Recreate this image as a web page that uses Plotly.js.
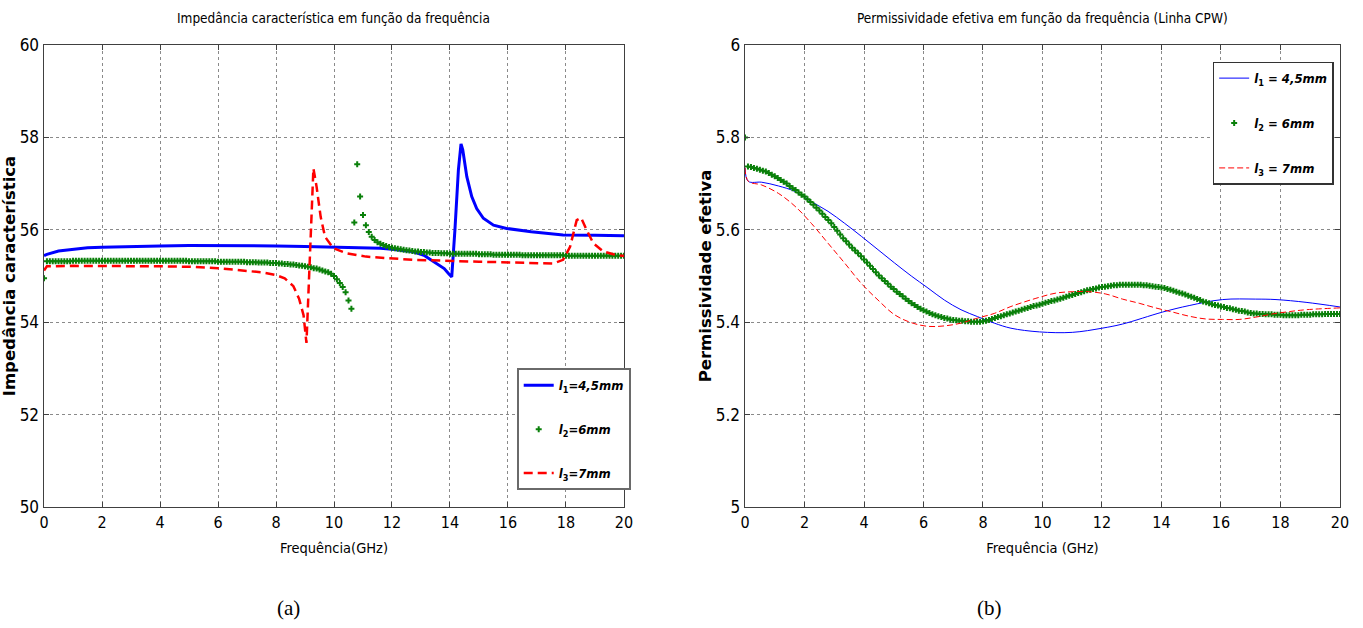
<!DOCTYPE html>
<html>
<head>
<meta charset="utf-8">
<script src="https://cdn.plot.ly/plotly-3.0.1.min.js"></script>
<style>
  html, body { margin: 0; padding: 0; background: #ffffff; }
  #chart { width: 1363px; height: 628px; }
</style>
</head>
<body>
<div id="chart"></div>
<script>
// ---------------- (a) Impedância característica ----------------
const impL1Freq = [0, 0.1, 0.5, 1, 1.5, 2, 3, 4, 5, 6, 7, 8, 9, 10, 11, 11.6, 12, 12.7, 13.1, 13.4, 13.8, 13.94, 14.06, 14.17, 14.29, 14.38, 14.44, 14.58, 14.75, 14.92, 15.15, 15.5, 15.95, 16.8, 17.9, 19, 20];
const impL1 = [55.44, 55.47, 55.54, 55.58, 55.61, 55.62, 55.64, 55.65, 55.66, 55.66, 55.65, 55.65, 55.64, 55.63, 55.62, 55.6, 55.58, 55.53, 55.45, 55.33, 55.16, 55.06, 54.98, 56.0, 57.3, 57.86, 57.73, 57.15, 56.72, 56.46, 56.25, 56.1, 56.03, 55.96, 55.89, 55.88, 55.87];

// l2 markers sampled every 0.1 GHz starting at 0 GHz
const impL2 = [
  54.95,
  55.32, 55.32, 55.32, 55.32, 55.32, 55.32, 55.32, 55.32, 55.32,
  55.33, 55.33, 55.33, 55.33, 55.33, 55.33, 55.33, 55.33, 55.33, 55.33,
  55.33, 55.33, 55.33, 55.33, 55.33, 55.33, 55.33, 55.33, 55.33, 55.33,
  55.33, 55.33, 55.33, 55.33, 55.33, 55.33, 55.33, 55.33, 55.33, 55.33,
  55.33, 55.33, 55.33, 55.33, 55.33, 55.33, 55.33, 55.33, 55.33, 55.33,
  55.32, 55.32, 55.32, 55.32, 55.32, 55.32, 55.32, 55.32, 55.32, 55.32,
  55.31, 55.31, 55.31, 55.31, 55.31, 55.31, 55.31, 55.31, 55.31, 55.31,
  55.30, 55.30, 55.30, 55.30, 55.29, 55.29, 55.29, 55.29, 55.28, 55.28,
  55.28, 55.27, 55.27, 55.26, 55.26, 55.25, 55.25, 55.24, 55.23, 55.22,
  55.21, 55.20, 55.19, 55.17, 55.16, 55.14, 55.12, 55.10, 55.08, 55.05,
  55.00, 54.93, 54.85, 54.76, 54.65, 54.47, 54.29, 56.16, 57.42, 56.72,
  56.32, 56.10, 55.95, 55.85, 55.78, 55.73, 55.70, 55.67, 55.65, 55.63,
  55.61, 55.60, 55.59, 55.58, 55.57, 55.56, 55.55, 55.54, 55.53, 55.53,
  55.52, 55.52, 55.51, 55.51, 55.50, 55.50, 55.50, 55.49, 55.49, 55.49,
  55.48, 55.48, 55.48, 55.48, 55.48, 55.48, 55.48, 55.48, 55.48, 55.48,
  55.47, 55.47, 55.47, 55.47, 55.47, 55.46, 55.46, 55.46, 55.46, 55.46,
  55.46, 55.46, 55.46, 55.46, 55.46, 55.45, 55.45, 55.45, 55.45, 55.45,
  55.45, 55.45, 55.45, 55.45, 55.45, 55.45, 55.45, 55.45, 55.45, 55.45,
  55.44, 55.44, 55.44, 55.44, 55.44, 55.44, 55.44, 55.44, 55.44, 55.44,
  55.44, 55.44, 55.44, 55.44, 55.44, 55.44, 55.44, 55.44, 55.44, 55.44,
  55.44
];

const impL3Freq = [0, 0.1, 1, 2, 3, 4, 5, 6, 7, 7.5, 8, 8.3, 8.6, 8.8, 8.95, 9.05, 9.29, 9.4, 9.54, 9.69, 9.98, 10.44, 11.1, 12.7, 15, 17.56, 17.9, 18.14, 18.37, 18.52, 18.71, 18.94, 19.29, 19.63, 20];
const impL3 = [55.12, 55.21, 55.22, 55.22, 55.21, 55.21, 55.2, 55.17, 55.11, 55.08, 55.02, 54.95, 54.78, 54.5, 54.15, 53.55, 57.33, 56.93, 56.28, 55.85, 55.6, 55.49, 55.42, 55.35, 55.31, 55.27, 55.35, 55.63, 56.21, 56.26, 56.0, 55.71, 55.53, 55.47, 55.43];

// ---------------- (b) Permissividade efetiva ----------------
const permL1Freq = [0, 0.11, 0.56, 1.12, 1.68, 2.23, 2.79, 3.35, 3.91, 4.47, 5.03, 5.59, 6.15, 6.7, 7.26, 7.82, 8.38, 8.94, 9.9, 11.0, 12.0, 12.69, 14.04, 14.93, 16.05, 17.17, 17.85, 18.86, 20];
const permL1 = [5.734, 5.705, 5.703, 5.695, 5.683, 5.661, 5.64, 5.614, 5.586, 5.557, 5.528, 5.5, 5.474, 5.448, 5.427, 5.412, 5.398, 5.387, 5.379, 5.378, 5.387, 5.396, 5.422, 5.436, 5.449, 5.45, 5.449, 5.443, 5.433];

const permL2 = [
  5.800,
  5.737, 5.736, 5.734, 5.732, 5.730, 5.728, 5.726, 5.723, 5.719,
  5.716, 5.712, 5.708, 5.704, 5.700, 5.695, 5.690, 5.686, 5.681, 5.676,
  5.672, 5.666, 5.660, 5.654, 5.648, 5.642, 5.635, 5.628, 5.621, 5.614,
  5.606, 5.598, 5.590, 5.582, 5.575, 5.568, 5.561, 5.555, 5.549, 5.543,
  5.536, 5.529, 5.522, 5.515, 5.508, 5.501, 5.495, 5.489, 5.483, 5.477,
  5.472, 5.466, 5.461, 5.456, 5.451, 5.446, 5.441, 5.437, 5.433, 5.429,
  5.426, 5.423, 5.420, 5.417, 5.415, 5.413, 5.411, 5.409, 5.408, 5.406,
  5.405, 5.404, 5.403, 5.403, 5.402, 5.402, 5.401, 5.401, 5.401, 5.401,
  5.402, 5.403, 5.405, 5.407, 5.409, 5.411, 5.413, 5.415, 5.417, 5.419,
  5.421, 5.423, 5.425, 5.427, 5.429, 5.431, 5.433, 5.435, 5.436, 5.438,
  5.440, 5.442, 5.444, 5.446, 5.447, 5.449, 5.451, 5.453, 5.455, 5.457,
  5.459, 5.461, 5.463, 5.465, 5.467, 5.469, 5.470, 5.472, 5.473, 5.475,
  5.476, 5.477, 5.478, 5.479, 5.480, 5.480, 5.481, 5.481, 5.481, 5.481,
  5.481, 5.481, 5.481, 5.481, 5.480, 5.480, 5.479, 5.478, 5.477, 5.476,
  5.475, 5.474, 5.472, 5.470, 5.468, 5.466, 5.464, 5.462, 5.460, 5.457,
  5.455, 5.453, 5.450, 5.448, 5.445, 5.443, 5.441, 5.439, 5.437, 5.436,
  5.434, 5.433, 5.431, 5.430, 5.428, 5.427, 5.425, 5.424, 5.423, 5.421,
  5.420, 5.419, 5.419, 5.418, 5.418, 5.417, 5.417, 5.417, 5.416, 5.416,
  5.416, 5.415, 5.415, 5.415, 5.415, 5.415, 5.415, 5.416, 5.416, 5.416,
  5.416, 5.417, 5.417, 5.417, 5.417, 5.418, 5.418, 5.418, 5.418, 5.418,
  5.418
];

const permL3Freq = [0, 0.11, 0.56, 1.12, 1.68, 2.23, 2.79, 3.35, 3.91, 4.47, 5.03, 5.59, 6.15, 6.7, 7.26, 7.82, 8.38, 8.94, 9.9, 10.45, 11.0, 11.57, 12.13, 12.69, 13.25, 13.8, 14.37, 14.93, 15.49, 16.05, 16.61, 17.17, 17.74, 18.3, 18.86, 20];
const permL3 = [5.734, 5.705, 5.697, 5.679, 5.651, 5.614, 5.571, 5.528, 5.484, 5.448, 5.416, 5.399, 5.391, 5.392, 5.398, 5.409, 5.419, 5.434, 5.454, 5.463, 5.466, 5.466, 5.461, 5.45, 5.441, 5.431, 5.422, 5.413, 5.407, 5.406, 5.406, 5.411, 5.418, 5.423, 5.427, 5.431];

const seriesNames = ['<i>l</i><sub>1</sub><i>=4,5mm</i>', '<i>l</i><sub>2</sub><i>=6mm</i>', '<i>l</i><sub>3</sub><i>=7mm</i>'];
const seriesNamesB = ['<i>l</i><sub>1</sub><i> = 4,5mm</i>', '<i>l</i><sub>2</sub><i> = 6mm</i>', '<i>l</i><sub>3</sub><i> = 7mm</i>'];

const NARROW = '"Liberation Sans Narrow", "Arial Narrow", "DejaVu Sans Condensed", sans-serif';
const BLUE = '#0000ff', GREEN = '#0a800a', RED = '#ff0000';

const traces = [
  {x: impL1Freq, y: impL1, type: 'scatter', mode: 'lines', name: seriesNames[0],
   line: {color: BLUE, width: 3}, xaxis: 'x', yaxis: 'y', legend: 'legend', legendgroup: 'a1'},
  {x0: 0, dx: 0.1, y: impL2, type: 'scatter', mode: 'markers', name: seriesNames[1],
   marker: {color: GREEN, symbol: 'cross', size: 5}, xaxis: 'x', yaxis: 'y', legend: 'legend', legendgroup: 'a2'},
  {x: impL3Freq, y: impL3, type: 'scatter', mode: 'lines', name: seriesNames[2],
   line: {color: RED, width: 2.5, dash: '9px,5px'}, xaxis: 'x', yaxis: 'y', legend: 'legend', legendgroup: 'a3'},

  {x: permL1Freq, y: permL1, type: 'scatter', mode: 'lines', name: seriesNamesB[0],
   line: {color: BLUE, width: 1, shape: 'spline'}, xaxis: 'x2', yaxis: 'y2', legend: 'legend2', legendgroup: 'b1'},
  {x0: 0, dx: 0.1, y: permL2, type: 'scatter', mode: 'markers', name: seriesNamesB[1],
   marker: {color: GREEN, symbol: 'cross', size: 5}, xaxis: 'x2', yaxis: 'y2', legend: 'legend2', legendgroup: 'b2'},
  {x: permL3Freq, y: permL3, type: 'scatter', mode: 'lines', name: seriesNamesB[2],
   line: {color: RED, width: 1, dash: '6px,3px', shape: 'spline'}, xaxis: 'x2', yaxis: 'y2', legend: 'legend2', legendgroup: 'b3'}
];

function xAxis(domain, anchor, title) {
  return {
    domain: domain, anchor: anchor, range: [0, 20], dtick: 2, tick0: 0,
    showgrid: true, gridcolor: '#8a8a8a', griddash: 'dot', gridwidth: 1,
    zeroline: false, showline: true, linecolor: '#404040', linewidth: 1.5, mirror: 'allticks',
    ticks: 'inside', ticklen: 5, tickcolor: '#404040',
    tickfont: {family: NARROW, size: 16, color: '#000'},
    title: {text: title, font: {family: NARROW, size: 14.5, color: '#000'}, standoff: 12}
  };
}
function yAxis(domain, anchor, range, dtick, title) {
  return {
    domain: domain, anchor: anchor, range: range, dtick: dtick, tick0: range[0],
    showgrid: true, gridcolor: '#8a8a8a', griddash: 'dot', gridwidth: 1,
    zeroline: false, showline: true, linecolor: '#404040', linewidth: 1.5, mirror: 'allticks',
    ticks: 'inside', ticklen: 5, tickcolor: '#404040',
    tickfont: {family: NARROW, size: 17, color: '#000'},
    title: {text: title, font: {family: '"DejaVu Sans", "Liberation Sans", sans-serif', size: 16.5, color: '#000', weight: 'bold'}, standoff: 0}
  };
}

const legendCommon = {
  xanchor: 'left', yanchor: 'top', bgcolor: '#ffffff',
  font: {family: NARROW, size: 13, color: '#000', weight: 'bold'},
  itemwidth: 30, tracegroupgap: 24
};

const layout = {
  width: 1363, height: 628,
  margin: {l: 0, r: 0, t: 0, b: 0},
  paper_bgcolor: '#ffffff', plot_bgcolor: '#ffffff',
  showlegend: true,
  xaxis: xAxis([0.0323, 0.4578], 'y', 'Frequência(GHz)'),
  yaxis: yAxis([0.1927, 0.9283], 'x', [50, 60], 2, 'Impedância característica'),
  xaxis2: xAxis([0.5466, 0.9831], 'y2', 'Frequência (GHz)'),
  yaxis2: yAxis([0.1927, 0.9283], 'x2', [5, 6], 0.2, 'Permissividade efetiva'),
  legend: Object.assign({}, legendCommon, {x: 0.3791, y: 0.4135, bordercolor: '#6a6a6a', borderwidth: 2}),
  legend2: Object.assign({}, legendCommon, {x: 0.8897, y: 0.9018, bordercolor: '#333333', borderwidth: 1.5, tracegroupgap: 25}),
  annotations: [
    {text: 'Impedância característica em função da frequência', xref: 'paper', yref: 'paper',
     x: 0.2450, y: 1 - 18 / 628, xanchor: 'center', yanchor: 'middle', showarrow: false,
     font: {family: NARROW, size: 13.5, color: '#000'}},
    {text: 'Permissividade efetiva em função da frequência (Linha CPW)', xref: 'paper', yref: 'paper',
     x: 0.7648, y: 1 - 18 / 628, xanchor: 'center', yanchor: 'middle', showarrow: false,
     font: {family: NARROW, size: 13.5, color: '#000'}},
    {text: '(a)', xref: 'paper', yref: 'paper', x: 288 / 1363, y: 1 - 608 / 628,
     xanchor: 'center', yanchor: 'middle', showarrow: false,
     font: {family: '"Liberation Serif", "Times New Roman", serif', size: 21, color: '#000'}},
    {text: '(b)', xref: 'paper', yref: 'paper', x: 989 / 1363, y: 1 - 608 / 628,
     xanchor: 'center', yanchor: 'middle', showarrow: false,
     font: {family: '"Liberation Serif", "Times New Roman", serif', size: 21, color: '#000'}}
  ]
};

Plotly.newPlot('chart', traces, layout, {displayModeBar: false, staticPlot: true});
</script>
</body>
</html>
